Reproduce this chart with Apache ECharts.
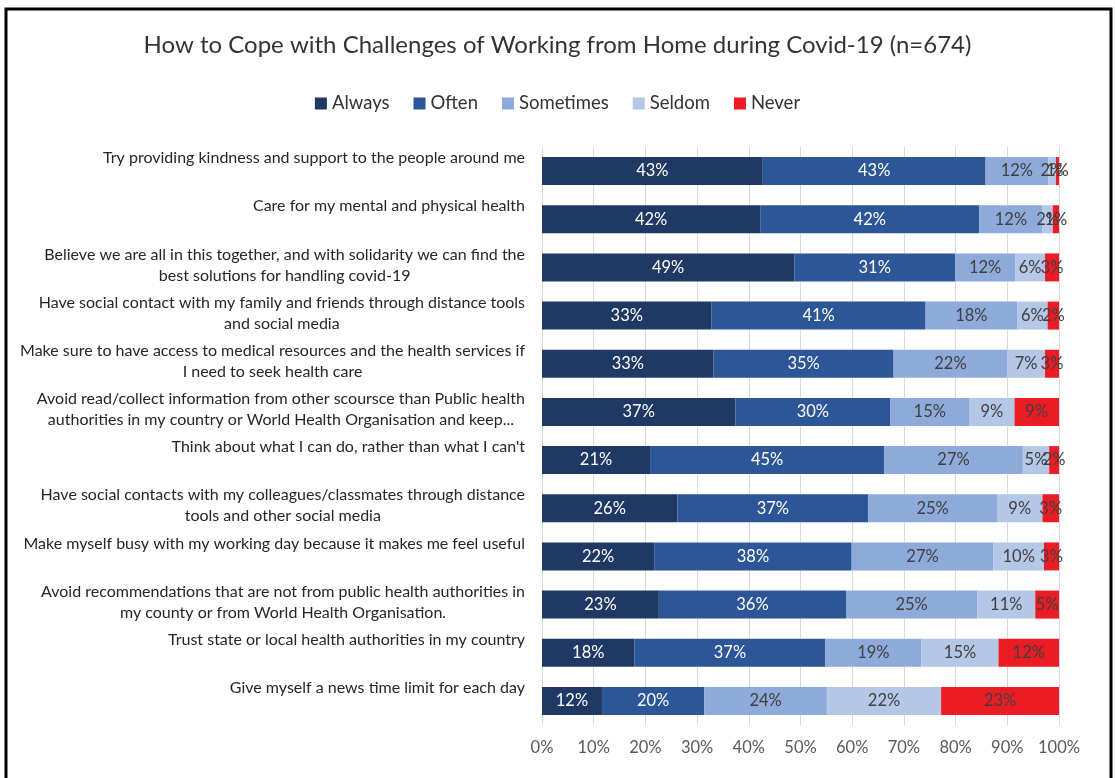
<!DOCTYPE html>
<html>
<head>
<meta charset="utf-8">
<script src="https://cdn.jsdelivr.net/npm/echarts@6/dist/echarts.min.js"></script>
<style>
  html, body { margin: 0; padding: 0; background: #fff; }
  #chart { width: 1115px; height: 778px; }
</style>
</head>
<body>
<div id="chart"></div>
<script>
// Survey statements, top to bottom
const categories = [
  'Try providing kindness and support to the people around me',
  'Care for my mental and physical health',
  'Believe we are all in this together, and with solidarity we can find the\nbest solutions for handling covid-19',
  'Have social contact with my family and friends through distance tools\nand social media',
  'Make sure to have access to medical resources and the health services if\nI need to seek health care',
  'Avoid read/collect information from other scoursce than Public health\nauthorities in my country or World Health Organisation and keep...',
  "Think about what I can do, rather than what I can't",
  'Have social contacts with my colleagues/classmates through distance\ntools and other social media',
  'Make myself busy with my working day because it makes me feel useful',
  'Avoid recommendations that are not from public health authorities in\nmy county or from World Health Organisation.',
  'Trust state or local health authorities in my country',
  'Give myself a news time limit for each day'
];

// Share of respondents (%) per answer
const always    = [42.7, 42.2, 48.8, 32.8, 33.2, 37.4, 20.9, 26.2, 21.7, 22.6, 17.9, 11.6];
const often     = [43.1, 42.4, 31.1, 41.4, 34.8, 30.0, 45.3, 36.9, 38.2, 36.2, 36.9, 19.8];
const sometimes = [12.1, 12.2, 11.6, 17.7, 22.0, 15.2, 26.8, 24.9, 27.4, 25.4, 18.6, 23.7];
const seldom    = [ 1.5,  2.0,  5.8,  5.9,  7.3,  8.8,  5.1,  8.8,  9.8, 11.2, 14.9, 22.1];
const never     = [ 0.6,  1.2,  2.7,  2.2,  2.7,  8.6,  1.9,  3.2,  2.9,  4.6, 11.7, 22.8];

const seriesNames = ['Always', 'Often', 'Sometimes', 'Seldom', 'Never'];
const seriesData = [always, often, sometimes, seldom, never];
const seriesColors = ['#1f3864', '#2c5697', '#8eaadb', '#b4c7e7', '#ec1c24'];
const labelColors = ['#ffffff', '#ffffff', '#404040', '#404040', '#404040'];

const FONT = 'Lato, "Noto Sans", sans-serif';

const chart = echarts.init(document.getElementById('chart'), null, { renderer: 'canvas' });

chart.setOption({
  backgroundColor: '#ffffff',
  animation: false,
  title: {
    text: 'How to Cope with Challenges of Working from Home during Covid-19 (n=674)',
    left: 'center',
    top: 33,
    padding: 0,
    textStyle: { fontFamily: FONT, fontSize: 24, fontWeight: 'normal', color: '#333333' }
  },
  legend: {
    top: 89,
    left: 'center',
    icon: 'rect',
    itemWidth: 12,
    itemHeight: 12,
    itemGap: 24,
    textStyle: { fontFamily: FONT, fontSize: 18.5, color: '#333333' },
    data: seriesNames
  },
  grid: { left: 542, right: 56, top: 147, bottom: 53, containLabel: false },
  xAxis: {
    type: 'value',
    min: 0,
    max: 100,
    interval: 10,
    axisLine: { show: false },
    axisTick: { show: false },
    splitLine: { show: true, lineStyle: { color: '#d9d9d9', width: 1 } },
    axisLabel: {
      formatter: '{value}%',
      fontFamily: FONT,
      fontSize: 16.5,
      color: '#595959',
      margin: 14
    }
  },
  yAxis: {
    type: 'category',
    inverse: true,
    data: categories,
    axisLine: { show: false },
    axisTick: { show: false },
    axisLabel: {
      margin: 17,
      align: 'right',
      padding: [0, 0, 5, 0],
      formatter: function (v) {
        const lines = v.split('\n');
        if (lines.length === 1) lines.push(' ');
        return lines.map(function (l) { return '{c|' + l + '}'; }).join('\n');
      },
      rich: {
        c: { align: 'center', fontFamily: FONT, fontSize: 16, lineHeight: 21, color: '#262626' }
      }
    }
  },
  series: seriesNames.map(function (name, i) {
    return {
      name: name,
      type: 'bar',
      stack: 'total',
      barWidth: 28,
      data: seriesData[i],
      itemStyle: { color: seriesColors[i] },
      label: {
        show: true,
        position: 'inside',
        formatter: function (p) { return Math.round(p.value) + '%'; },
        fontFamily: FONT,
        fontSize: 16.5,
        color: labelColors[i]
      },
      emphasis: { disabled: true }
    };
  }),
  graphic: [{
    type: 'rect',
    silent: true,
    shape: { x: 6, y: 9, width: 1105, height: 790 },
    style: { fill: 'none', stroke: '#000000', lineWidth: 3 }
  }]
});
</script>
</body>
</html>
